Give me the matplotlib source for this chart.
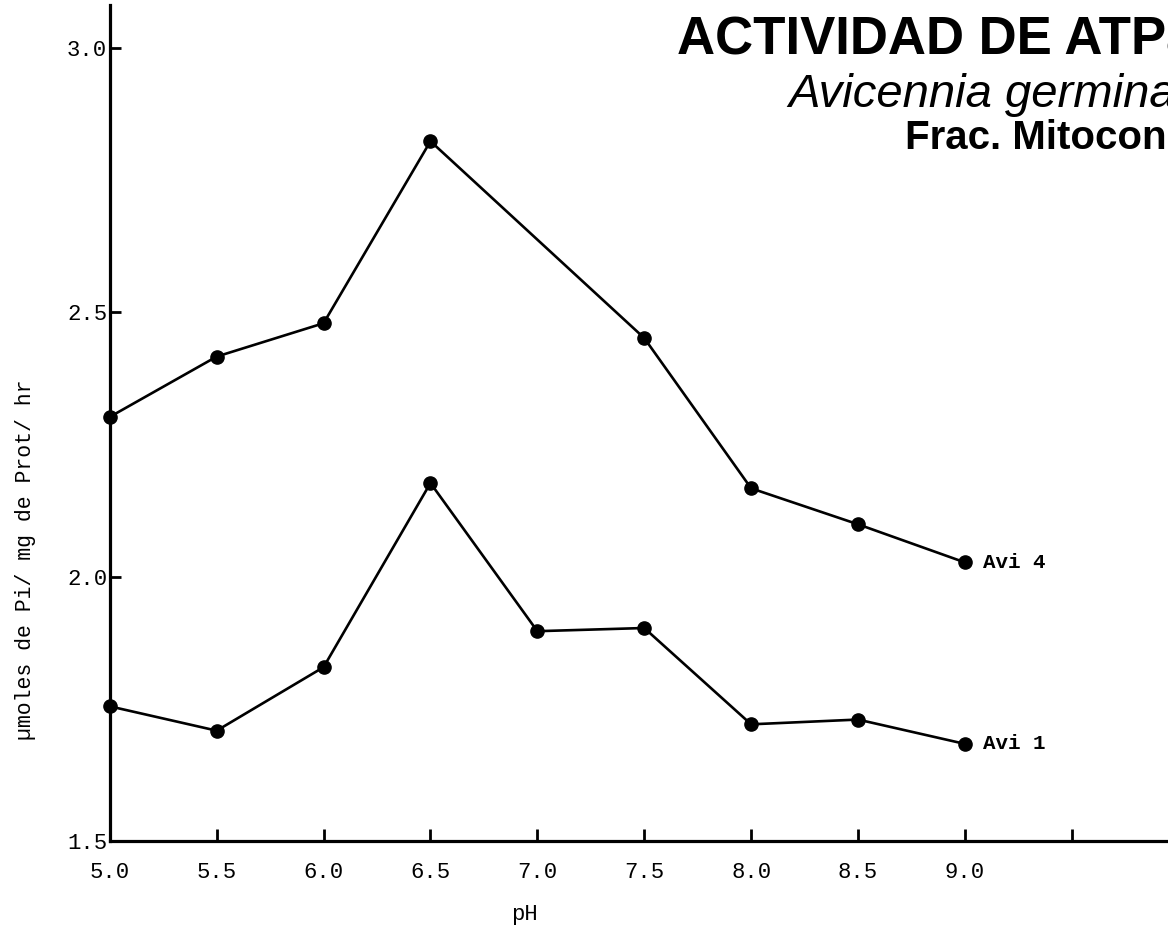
import matplotlib
matplotlib.use("Agg")
import matplotlib.pyplot as plt

# Actividad de ATPasa vs pH, fraccion mitocondrial
ph_avi4 = [5.0, 5.5, 6.0, 6.5, 7.5, 8.0, 8.5, 9.0]
act_avi4 = [2.302, 2.416, 2.479, 2.823, 2.451, 2.167, 2.099, 2.027]

ph_avi1 = [5.0, 5.5, 6.0, 6.5, 7.0, 7.5, 8.0, 8.5, 9.0]
act_avi1 = [1.755, 1.709, 1.829, 2.177, 1.897, 1.903, 1.721, 1.730, 1.684]

x_ticks = [5.0, 5.5, 6.0, 6.5, 7.0, 7.5, 8.0, 8.5, 9.0, 9.5]
x_labels = ["5.0", "5.5", "6.0", "6.5", "7.0", "7.5", "8.0", "8.5", "9.0", ""]
y_ticks = [1.5, 2.0, 2.5, 3.0]
y_labels = ["1.5", "2.0", "2.5", "3.0"]

mono = "Liberation Mono"

fig = plt.figure(figsize=(11.68, 9.41), dpi=100)
ax = fig.add_axes([0.094, 0.106, 0.906, 0.889])

for ph, act, name in [(ph_avi4, act_avi4, "Avi 4"), (ph_avi1, act_avi1, "Avi 1")]:
    ax.plot(ph, act, color="black", linewidth=1.9, marker="o", markersize=9.5,
            clip_on=False, zorder=3)
    ax.annotate(name, (ph[-1], act[-1]), xytext=(13, 0), textcoords="offset points",
                va="center", ha="left", fontsize=15, fontfamily=mono, fontweight="bold")

ax.set_xlim(5.0, 9.95)
ax.set_ylim(1.5, 3.081)

for side in ["top", "right"]:
    ax.spines[side].set_visible(False)
for side in ["left", "bottom"]:
    ax.spines[side].set_linewidth(2.3)

ax.set_xticks(x_ticks)
ax.set_xticklabels(x_labels, fontfamily=mono, fontsize=16)
ax.set_yticks(y_ticks)
ax.set_yticklabels(y_labels, fontfamily=mono, fontsize=16)
ax.tick_params(axis="x", direction="in", length=9, width=2, pad=15)
ax.tick_params(axis="y", direction="in", length=8, width=2, pad=2)

ax.set_xlabel("pH", fontfamily=mono, fontsize=16)
ax.xaxis.set_label_coords(0.392, -0.075)
ax.set_ylabel("µmoles de Pi/ mg de Prot/ hr", fontfamily=mono, fontsize=15.5)
ax.yaxis.set_label_coords(-0.070, 0.337)

fig.text(0.580, 0.957, "ACTIVIDAD DE ATPasa", fontsize=38, fontweight="bold",
         fontfamily="Liberation Sans", ha="left", va="center")
fig.text(0.675, 0.899, "Avicennia germinans", fontsize=34, fontstyle="italic",
         fontfamily="Liberation Sans", ha="left", va="center")
fig.text(0.775, 0.853, "Frac. Mitocondrial", fontsize=29, fontweight="bold",
         fontfamily="Liberation Sans", ha="left", va="center")

fig.savefig("out.png", dpi=100)
